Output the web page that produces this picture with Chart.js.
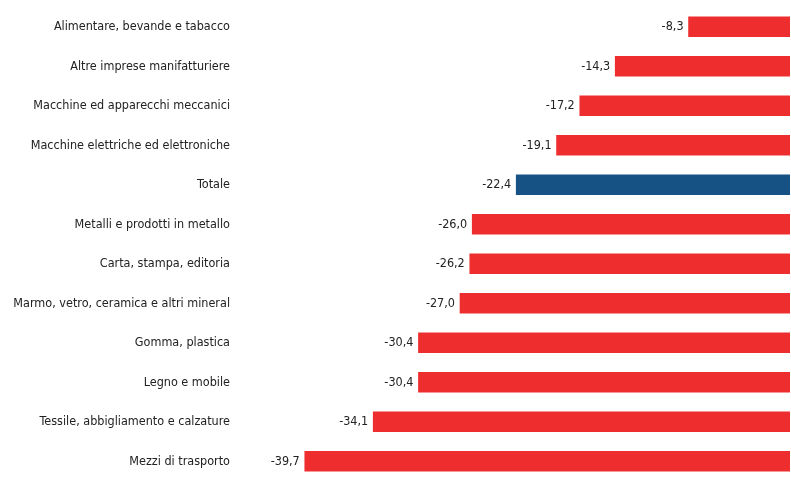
<!DOCTYPE html>
<html><head><meta charset="utf-8">
<script src="https://cdn.jsdelivr.net/npm/chart.js@4"></script>
<style>html,body{margin:0;padding:0;background:#fff;overflow:hidden}#w{width:791px;height:481px}</style>
</head><body><div id="w"><canvas id="c"></canvas></div>
<script>
const categories = ["Alimentare, bevande e tabacco","Altre imprese manifatturiere","Macchine ed apparecchi meccanici","Macchine elettriche ed elettroniche","Totale","Metalli e prodotti in metallo","Carta, stampa, editoria","Marmo, vetro, ceramica e altri mineral","Gomma, plastica","Legno e mobile","Tessile, abbigliamento e calzature","Mezzi di trasporto"];
const values = [-8.3,-14.3,-17.2,-19.1,-22.4,-26.0,-26.2,-27.0,-30.4,-30.4,-34.1,-39.7];
const RED = "#EE2E2E", BLUE = "#175284";
const colors = categories.map(c => c === "Totale" ? BLUE : RED);
const FONT = "'DejaVu Sans Condensed','DejaVu Sans',sans-serif";

const valueLabels = {
  id: 'valueLabels',
  afterDatasetsDraw(chart) {
    const ctx = chart.ctx;
    const meta = chart.getDatasetMeta(0);
    ctx.save();
    ctx.font = "12.5px " + FONT;
    ctx.fillStyle = "#222";
    ctx.textAlign = "right";
    ctx.textBaseline = "middle";
    meta.data.forEach((bar, i) => {
      ctx.fillText(values[i].toFixed(1).replace('.', ','), bar.x - 5, bar.y);
    });
    ctx.restore();
  }
};

new Chart(document.getElementById('c'), {
  type: 'bar',
  data: { labels: categories, datasets: [{ data: values, backgroundColor: colors, barThickness: 20, borderWidth: 0 }] },
  options: {
    indexAxis: 'y', responsive: true, maintainAspectRatio: false, animation: false,
    layout: { padding: { top: 7, right: 1, bottom: 0, left: 0 } },
    plugins: { legend: { display: false }, tooltip: { enabled: false } },
    scales: {
      x: { display: false, min: -45, max: 0 },
      y: {
        grid: { display: false, drawTicks: false }, border: { display: false },
        ticks: { padding: 10, color: "#222", font: { size: 12.5, family: FONT } },
        afterFit(s) { s.width = 240; s.paddingTop = 0; s.paddingBottom = 0; }
      }
    }
  },
  plugins: [valueLabels]
});
</script></body></html>
